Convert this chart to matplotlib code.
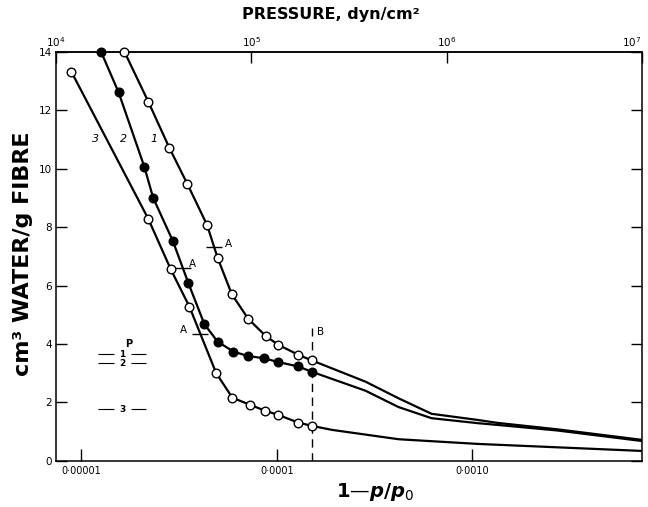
import numpy as np
import matplotlib
matplotlib.use("Agg")
import matplotlib.pyplot as plt
from matplotlib.ticker import NullLocator, FixedLocator

# 1 - p/p0 values and water content (cm3/g)
# curve 1 (open circles)
c1_x = [1.66e-5, 2.20e-5, 2.82e-5, 3.49e-5, 4.40e-5, 4.98e-5, 5.89e-5, 7.15e-5, 8.79e-5, 1.02e-4, 1.29e-4, 1.51e-4]
c1_y = [14.0, 12.29, 10.71, 9.47, 8.07, 6.95, 5.70, 4.86, 4.27, 3.97, 3.63, 3.44]
c1_tail_x = [1.51e-4, 2.85e-4, 4.21e-4, 6.21e-4, 1.07e-3, 1.35e-3, 2.73e-3, 7.4e-3]
c1_tail_y = [3.44, 2.71, 2.14, 1.61, 1.40, 1.30, 1.08, 0.72]

# curve 2 (filled circles)
c2_x = [1.26e-5, 1.55e-5, 2.10e-5, 2.33e-5, 2.94e-5, 3.53e-5, 4.26e-5, 4.98e-5, 6.00e-5, 7.10e-5, 8.62e-5, 1.02e-4, 1.29e-4, 1.51e-4]
c2_y = [14.0, 12.61, 10.06, 9.00, 7.52, 6.08, 4.68, 4.08, 3.74, 3.59, 3.51, 3.38, 3.23, 3.05]
c2_tail_x = [1.51e-4, 2.85e-4, 4.21e-4, 6.21e-4, 1.07e-3, 1.35e-3, 2.73e-3, 7.4e-3]
c2_tail_y = [3.05, 2.40, 1.84, 1.46, 1.29, 1.23, 1.04, 0.68]

# curve 3 (open circles)
c3_x = [8.89e-6, 2.20e-5, 2.86e-5, 3.57e-5, 4.90e-5, 5.93e-5, 7.29e-5, 8.69e-5, 1.02e-4, 1.29e-4, 1.51e-4]
c3_y = [13.31, 8.28, 6.57, 5.28, 3.00, 2.16, 1.92, 1.72, 1.57, 1.31, 1.20]
c3_tail_x = [1.51e-4, 1.92e-4, 4.21e-4, 1.07e-3, 7.4e-3]
c3_tail_y = [1.20, 1.06, 0.74, 0.58, 0.34]

# points "A" on each curve
a_x = [4.79e-5, 3.30e-5, 4.06e-5]
# level "B"
b_x = 1.51e-4
# "P" levels for curves 1, 2, 3
p_levels = [3.65, 3.34, 1.77]
p_names = ["1", "2", "3"]

K = 1.35e9  # pressure (dyn/cm2) per unit of 1 - p/p0
x_ticks = [1e-5, 1e-4, 1e-3]
x_ticklabels = ["0·00001", "0·0001", "0·0010"]
p_ticks = [1e4, 1e5, 1e6, 1e7]
p_ticklabels = [r"$10^4$", r"$10^5$", r"$10^6$", r"$10^7$"]
y_ticks = [0, 2, 4, 6, 8, 10, 12, 14]

fig = plt.figure(figsize=(6.48, 5.07), dpi=100)
ax = fig.add_axes([0.0864, 0.091, 0.904, 0.807])

ax.set_xscale("log")
ax.set_xlim(1e4 / K, 1e7 / K)
ax.set_ylim(0, 14)

lw = 1.6
ms = 6.2
mew = 1.0

def full_curve(xs, ys, tx, ty):
    X = list(xs) + list(tx[1:])
    Y = list(ys) + list(ty[1:])
    order = np.argsort(X)
    return np.array(X)[order], np.array(Y)[order]

curves = [
    (c1_x, c1_y, c1_tail_x, c1_tail_y, "white"),
    (c2_x, c2_y, c2_tail_x, c2_tail_y, "black"),
    (c3_x, c3_y, c3_tail_x, c3_tail_y, "white"),
]
lines = []
for xs, ys, tx, ty, fc in curves:
    X, Y = full_curve(xs, ys, tx, ty)
    lines.append((X, Y))
    ax.plot(X, Y, color="black", lw=lw, zorder=2, clip_on=True)
    ax.plot(xs, ys, "o", ms=ms, mfc=fc, mec="black", mew=mew, zorder=3, clip_on=False)

# "A" marks sitting on the curves
a_text_dx = [1.14, 1.08, 0.86]
for i, (X, Y) in enumerate(lines):
    ya = np.interp(np.log10(a_x[i]), np.log10(X), Y)
    ax.plot([a_x[i]], [ya], marker="_", ms=11, mew=1.0, color="black", zorder=4)
    ha = "left" if i < 2 else "right"
    ax.text(a_x[i] * a_text_dx[i], ya + 0.12, "A", fontsize=7.5, ha=ha, va="center")

# dashed line B
ax.plot([b_x, b_x], [0, 4.55], color="black", lw=1.0, ls=(0, (6, 4)), zorder=1)
ax.text(b_x * 1.06, 4.4, "B", fontsize=7.5, ha="left", va="center")

# curve numbers
ax.text(1.18e-5, 11.0, "3", fontsize=8, ha="center", va="center", style="italic")
ax.text(1.65e-5, 11.0, "2", fontsize=8, ha="center", va="center", style="italic")
ax.text(2.35e-5, 11.0, "1", fontsize=8, ha="center", va="center", style="italic")

# P levels
for lev, name in zip(p_levels, p_names):
    ax.hlines(lev, 1.22e-5, 1.47e-5, color="black", lw=0.8)
    ax.hlines(lev, 1.80e-5, 2.14e-5, color="black", lw=0.8)
    ax.text(1.62e-5, lev, name, fontsize=6.5, ha="center", va="center", fontweight="bold")
ax.text(1.75e-5, 4.0, "P", fontsize=7, ha="center", va="center", fontweight="bold")

# axes styling
for s in ax.spines.values():
    s.set_linewidth(1.1)
ax.xaxis.set_major_locator(FixedLocator(x_ticks))
ax.xaxis.set_minor_locator(NullLocator())
ax.set_xticks(x_ticks, labels=x_ticklabels)
ax.set_yticks(y_ticks)
ax.tick_params(axis="x", direction="in", length=9, width=1.0, labelsize=7, pad=4)
ax.tick_params(axis="y", direction="in", length=8, width=1.0, labelsize=7.5, pad=3,
               right=True)

sec = ax.secondary_xaxis("top", functions=(lambda x: x * K, lambda p: p / K))
sec.set_xscale("log")
sec.xaxis.set_major_locator(FixedLocator(p_ticks))
sec.xaxis.set_minor_locator(NullLocator())
sec.set_xticks(p_ticks, labels=p_ticklabels)
sec.tick_params(axis="x", direction="in", length=8, width=1.0, labelsize=7.5, pad=2)
sec.spines["top"].set_linewidth(1.1)
sec.get_xticklabels()[-1].set_horizontalalignment("right")

fig.text(0.51, 0.972, "PRESSURE, dyn/cm²", fontsize=11.5, fontweight="bold",
         ha="center", va="center")
fig.text(0.035, 0.5, "cm³ WATER/g FIBRE", fontsize=16, fontweight="bold",
         ha="center", va="center", rotation=90)
fig.text(0.578, 0.03, r"1—$\boldsymbol{p}$/$\boldsymbol{p}_{0}$", fontsize=14,
         fontweight="bold", ha="center", va="center")

fig.savefig("out.png", dpi=100)
